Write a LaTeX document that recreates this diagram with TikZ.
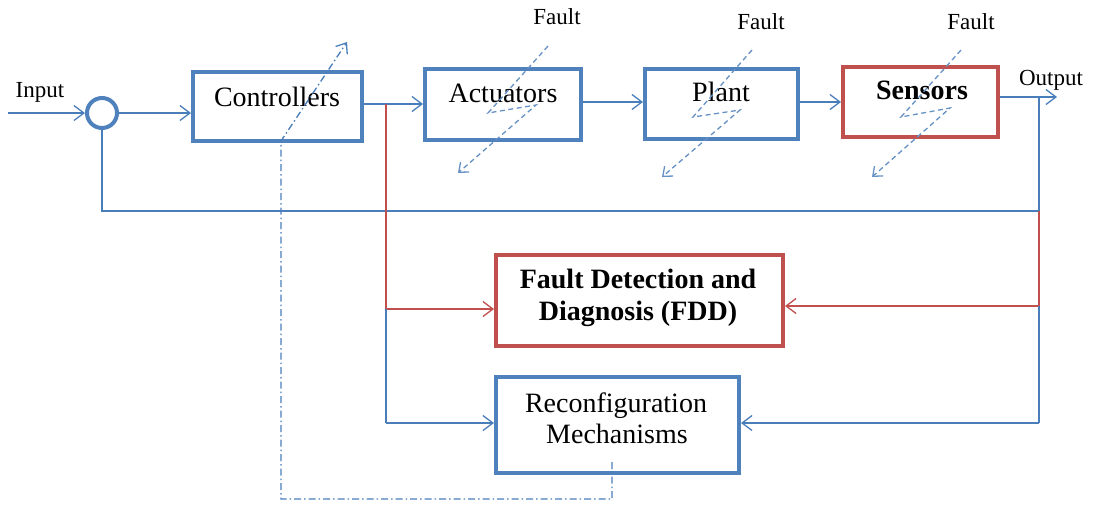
\documentclass[tikz,border=0pt]{standalone}
\usepackage{fontspec}
\setmainfont{Liberation Serif}
\usetikzlibrary{arrows.meta}
\definecolor{obl}{HTML}{4F81BD}
\definecolor{ord}{HTML}{C0504D}
\definecolor{lbl}{HTML}{4A7EBB}
\begin{document}
\begin{tikzpicture}[x=1pt,y=-1pt,
 box/.style={draw=obl,line width=4pt,rectangle,inner sep=0pt},
 rbox/.style={draw=ord,line width=4pt,rectangle,inner sep=0pt},
 big/.style={font=\fontsize{28}{32}\selectfont, anchor=base, inner sep=0pt},
 bigb/.style={font=\fontsize{28}{32}\selectfont\bfseries, anchor=base, inner sep=0pt},
 small/.style={font=\fontsize{23}{27}\selectfont, anchor=base, inner sep=0pt},
 conn/.style={draw=lbl,line width=1.3pt},
 rconn/.style={draw=ord,line width=1.3pt},
 tip/.style={-{Straight Barb[length=10pt,width=15pt]}},
 fault/.style={draw=lbl!85, line width=1.3pt, dash pattern=on 5pt off 3.5pt, -{Straight Barb[length=8pt,width=13pt]}},
 ctrlpath/.style={draw=lbl,line width=1.3pt, dash pattern=on 7pt off 3pt on 1.5pt off 3pt, -{Straight Barb[length=9pt,width=14pt]}}
]
\useasboundingbox (0,0) rectangle (1094,504);
% boxes
\node[draw=obl,line width=4pt,circle,minimum size=30pt,inner sep=0pt] (sum) at (102,113) {};
\node[box,minimum width=169pt,minimum height=69pt] (ctrl) at (277.5,106.5) {};
\node[box,minimum width=156pt,minimum height=71pt] (act) at (503,104.5) {};
\node[box,minimum width=153pt,minimum height=70pt] (plant) at (721.5,104) {};
\node[rbox,minimum width=155pt,minimum height=70pt] (sens) at (920.5,102) {};
\node[rbox,minimum width=287pt,minimum height=91pt] (fdd) at (639.5,300.5) {};
\node[box,minimum width=243pt,minimum height=96pt] (rec) at (617.5,425) {};
% texts
\node[big] (ctrlT) at (277,106) {Controllers};
\node[big] (actT) at (503,102) {Actuators};
\node[big] (plantT) at (721,101) {Plant};
\node[bigb] (sensT) at (922,99) {Sensors};
\node[bigb] (fddA) at (638,288) {Fault Detection and};
\node[bigb] (fddB) at (638,320) {Diagnosis (FDD)};
\node[big] (recA) at (616,412) {Reconfiguration};
\node[big] (recB) at (617,443) {Mechanisms};
\node[small] (inT) at (40,97) {Input};
\node[small] (outT) at (1051,85) {Output};
\node[small] (f1) at (557,24) {Fault};
\node[small] (f2) at (761,29) {Fault};
\node[small] (f3) at (971,29) {Fault};
% coordinates
\coordinate (inp) at (8,113);
\coordinate (jL) at (386,104);
\coordinate (r2) at (0,102);
\coordinate (outp) at (1057,97);
\coordinate (jR) at (1039,97);
\coordinate (fbR) at (1039,211);
\coordinate (fdR) at (1039,306);
\coordinate (rcR) at (1039,423);
\coordinate (fdL) at (386,309);
\coordinate (rcL) at (386,423);
% forward path
\draw[conn,tip] (inp) -- (sum.west);
\draw[conn,tip] (sum.east) -- (sum.east -| ctrl.west);
\draw[conn,tip] (ctrl.east |- jL) -- (act.west |- jL);
\draw[conn,tip] (act.east |- r2) -- (plant.west |- r2);
\draw[conn,tip] (plant.east |- r2) -- (sens.west |- r2);
\draw[conn,tip] (sens.east |- outp) -- (outp);
% right side
\draw[conn] (jR) -- (fbR);
\draw[conn] (fbR) -- (fbR -| sum) -- (sum.south);
\draw[rconn] (fbR) -- (fdR);
\draw[rconn,tip] (fdR) -- (fdR -| fdd.east);
\draw[conn] (fdR) -- (rcR);
\draw[conn,tip] (rcR) -- (rcR -| rec.east);
% left side
\draw[rconn] (jL) -- (fdL);
\draw[rconn,tip] (fdL) -- (fdL -| fdd.west);
\draw[conn] (fdL) -- (rcL);
\draw[conn,tip] (rcL) -- (rcL -| rec.west);
% reconfiguration action
\coordinate (d1) at (612,462);
\coordinate (d2) at (612,499);
\coordinate (d3) at (281,499);
\coordinate (d4) at (281,141);
\coordinate (d5) at (347,42);
\draw[ctrlpath] (d1) -- (d2) -- (d3) -- (d4) -- (d5);
% faults
\draw[fault] (548,46) -- (488,113) -- (536,105) -- (458,173);
\draw[fault] (752,50) -- (693,117) -- (740,110) -- (662,177);
\draw[fault] (961,50) -- (901,117) -- (950,108) -- (872,177);
\end{tikzpicture}
\end{document}
